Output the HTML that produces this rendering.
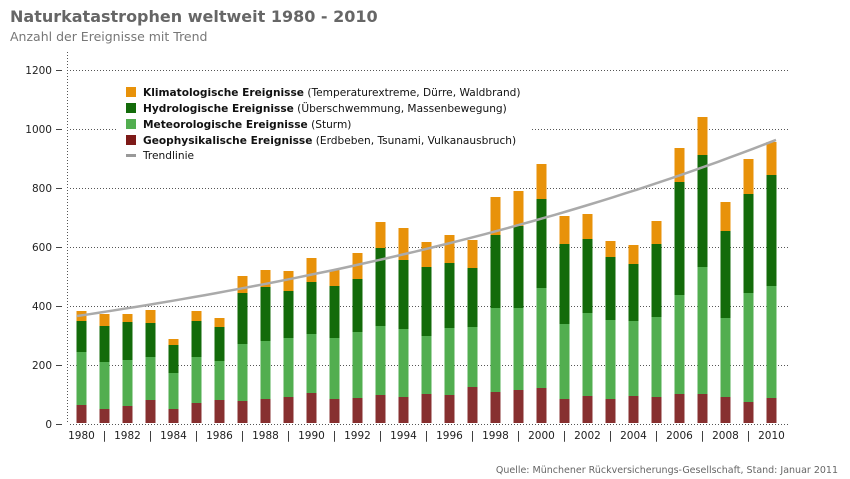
<!DOCTYPE html>
<html><head><meta charset="utf-8"><style>
html,body{margin:0;padding:0;background:#fff;}
svg{display:block;font-family:"DejaVu Sans","Liberation Sans",sans-serif;}
</style></head><body>
<svg width="850" height="479" viewBox="0 0 850 479" xmlns="http://www.w3.org/2000/svg">
<text x="10" y="22" font-size="16" font-weight="bold" fill="#666">Naturkatastrophen weltweit 1980 - 2010</text>
<text x="10" y="41" font-size="12.5" fill="#777">Anzahl der Ereignisse mit Trend</text>
<g stroke="#555" stroke-width="1" stroke-dasharray="1,2">
<line x1="70" y1="70.5" x2="790" y2="70.5"/>
<line x1="70" y1="129.5" x2="790" y2="129.5"/>
<line x1="70" y1="188.5" x2="790" y2="188.5"/>
<line x1="70" y1="247.5" x2="790" y2="247.5"/>
<line x1="70" y1="306.5" x2="790" y2="306.5"/>
<line x1="70" y1="365.5" x2="790" y2="365.5"/>
<line x1="70" y1="424.5" x2="790" y2="424.5"/>
<line x1="67.5" y1="52" x2="67.5" y2="424"/>
</g>
<rect x="118" y="82" width="414" height="88" fill="#fff"/>
<g stroke="#444" stroke-width="1">
<line x1="56" y1="70.5" x2="62" y2="70.5"/><line x1="56" y1="129.5" x2="62" y2="129.5"/>
<line x1="56" y1="188.5" x2="62" y2="188.5"/><line x1="56" y1="247.5" x2="62" y2="247.5"/>
<line x1="56" y1="306.5" x2="62" y2="306.5"/><line x1="56" y1="365.5" x2="62" y2="365.5"/>
<line x1="56" y1="424.5" x2="62" y2="424.5"/>
</g>
<g font-size="10.5" fill="#222" text-anchor="end">
<text x="52" y="74">1200</text><text x="52" y="133">1000</text><text x="52" y="192">800</text>
<text x="52" y="251">600</text><text x="52" y="310">400</text><text x="52" y="369">200</text><text x="52" y="428">0</text>
</g>
<g id="bars"></g>
<polyline id="trend" fill="none" stroke="#aaa" stroke-width="2.5" points=""/>
<g id="xl" font-size="10.5" fill="#222" text-anchor="middle"></g>
<g font-size="10.6" fill="#111">
<rect x="126" y="87" width="10" height="10" fill="#e8920a"/>
<text x="143" y="96"><tspan font-weight="bold">Klimatologische Ereignisse</tspan> (Temperaturextreme, Dürre, Waldbrand)</text>
<rect x="126" y="103" width="10" height="10" fill="#136b0a"/>
<text x="143" y="112"><tspan font-weight="bold">Hydrologische Ereignisse</tspan> (Überschwemmung, Massenbewegung)</text>
<rect x="126" y="119" width="10" height="10" fill="#52ae50"/>
<text x="143" y="128"><tspan font-weight="bold">Meteorologische Ereignisse</tspan> (Sturm)</text>
<rect x="126" y="135" width="10" height="10" fill="#7e1a18"/>
<text x="143" y="144"><tspan font-weight="bold">Geophysikalische Ereignisse</tspan> (Erdbeben, Tsunami, Vulkanausbruch)</text>
<rect x="126" y="154" width="10" height="3" fill="#999"/>
<text x="143" y="159">Trendlinie</text>
</g>
<text x="838" y="473" font-size="9.5" fill="#666" text-anchor="end">Quelle: Münchener Rückversicherungs-Gesellschaft, Stand: Januar 2011</text>
<script>
var d=[[311,321,352,405],[314,326,362,409],[314,322,360,406],[310,323,357,400],[339,345,373,409],[311,321,357,403],[318,327,361,400],[276,293,344,401],[270,287,341,399],[271,291,338,397],[258,282,334,393],[270,286,338,399],[253,279,332,398],[222,248,326,395],[228,260,329,397],[242,267,336,394],[235,263,328,395],[240,268,327,387],[197,235,308,392],[191,226,308,390],[164,199,288,388],[216,244,324,399],[214,239,313,396],[241,257,320,399],[245,264,321,396],[221,244,317,397],[148,182,295,394],[117,155,267,394],[202,231,318,397],[159,194,293,402],[142,175,286,398]];
var ns="http://www.w3.org/2000/svg",g=document.getElementById("bars"),xl=document.getElementById("xl");
var cols=["#e8920a","#136b0a","#52ae50","#873030"];
function r(x,y,w,h,c){var e=document.createElementNS(ns,"rect");e.setAttribute("x",x);e.setAttribute("y",y);e.setAttribute("width",w);e.setAttribute("height",h);e.setAttribute("fill",c);g.appendChild(e);}
var pts=[];
for(var i=0;i<31;i++){var cx=81.5+i*23,b=d[i],bot=[b[1],b[2],b[3],423];
for(var k=0;k<4;k++)r(cx-5,b[k],10,bot[k]-b[k],cols[k]);
var t=document.createElementNS(ns,"text");t.setAttribute("x",cx);t.setAttribute("y",439);t.textContent=(i%2==0)?(1980+i):"|";xl.appendChild(t);}
for(var s=0;s<=60;s++){var yr=s/2,x=77+yr*(776-77)/30,v=366*Math.exp(0.03225*yr);pts.push(x.toFixed(1)+","+(424-v*0.295).toFixed(1));}
document.getElementById("trend").setAttribute("points",pts.join(" "));
</script>
</svg>
</body></html>
